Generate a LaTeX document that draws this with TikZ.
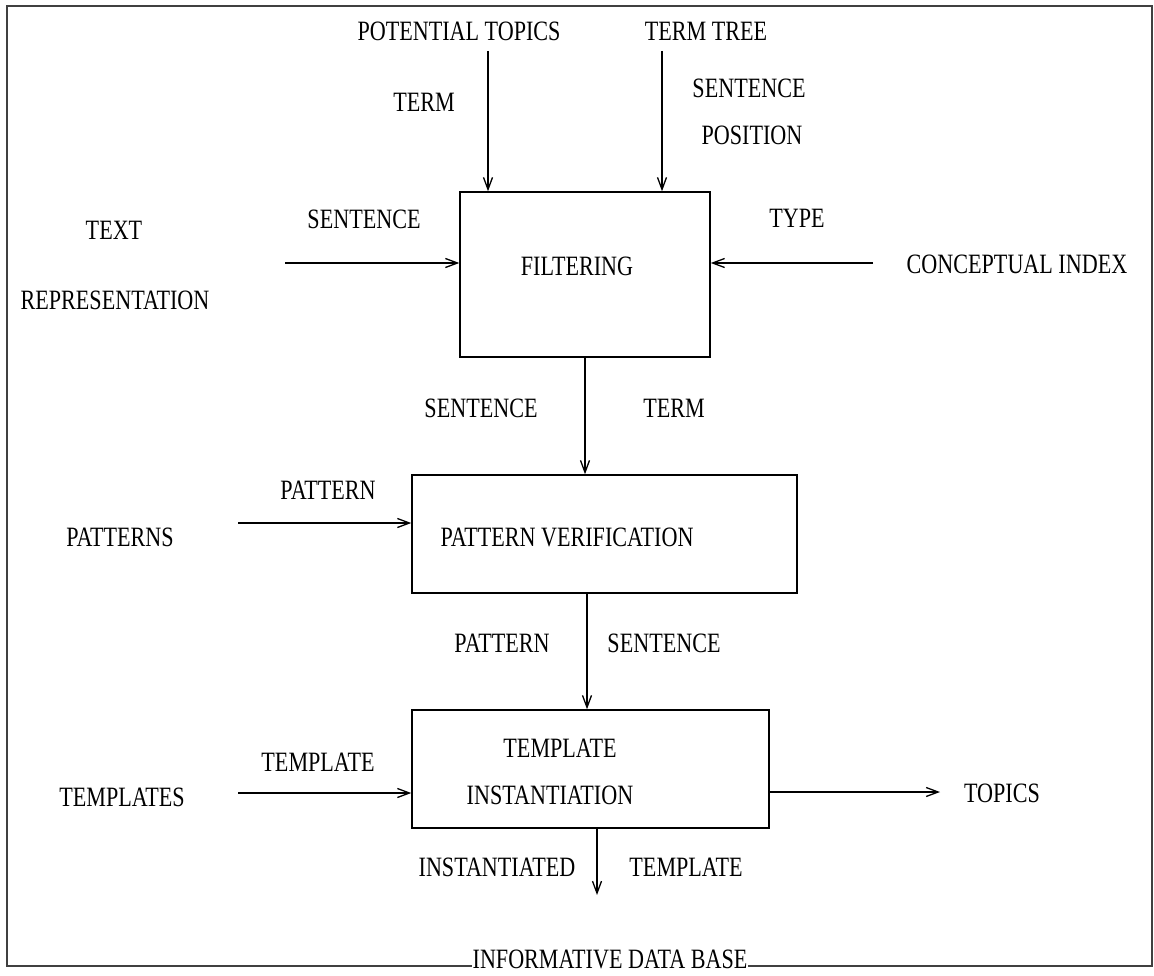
\documentclass[tikz,border=0pt]{standalone}
\usepackage{fontspec}
\setmainfont[FakeStretch=0.79]{Liberation Serif}
\usetikzlibrary{arrows.meta}
\begin{document}
\begin{tikzpicture}[x=1pt,y=-1pt,
  lbl/.style={inner sep=0pt,anchor=center,font=\fontsize{28}{31}\selectfont},
  procbox/.style={draw,line width=1.5pt,inner sep=0pt},
  arr/.style={line width=1.5pt,-{Straight Barb[length=12pt,width=9pt,line width=1.3pt]}},
  frame/.style={draw=black!75,line width=1.3pt}]
\useasboundingbox (0,0) rectangle (1154,976);
\draw[frame] (7,6) rectangle (1152,966);

% process boxes
\node[procbox,minimum width=250pt,minimum height=165pt] (fil) at (585,274.5) {};
\node[procbox,minimum width=385pt,minimum height=118pt] (pv) at (604.5,534) {};
\node[procbox,minimum width=357pt,minimum height=118pt] (tm) at (590.5,769) {};

% box texts
\node[lbl] (tfil) at (577,266) {FILTERING};
\node[lbl] (tpv) at (567,537) {PATTERN VERIFICATION};
\node[lbl] (ttm1) at (560,748) {TEMPLATE};
\node[lbl] (ttm2) at (550,795) {INSTANTIATION};

% sources / sinks
\node[lbl] (pot) at (459,31) {POTENTIAL TOPICS};
\node[lbl] (tree) at (706,31) {TERM TREE};
\node[lbl] (txt1) at (114,230) {TEXT};
\node[lbl] (txt2) at (115,300) {REPRESENTATION};
\node[lbl] (ci) at (1017,264) {CONCEPTUAL INDEX};
\node[lbl] (pats) at (120,537) {PATTERNS};
\node[lbl] (tmps) at (122,797) {TEMPLATES};
\node[lbl] (top) at (1002,793) {TOPICS};
\node[lbl,fill=white,inner sep=1pt] (idb) at (610,959) {INFORMATIVE DATA BASE};

% edge labels
\node[lbl] (l1) at (424,102) {TERM};
\node[lbl] (l2a) at (749,88) {SENTENCE};
\node[lbl] (l2b) at (752,135) {POSITION};
\node[lbl] (l3) at (364,219) {SENTENCE};
\node[lbl] (l4) at (797,218) {TYPE};
\node[lbl] (l5a) at (481,408) {SENTENCE};
\node[lbl] (l5b) at (674,408) {TERM};
\node[lbl] (l6) at (328,490) {PATTERN};
\node[lbl] (l7a) at (502,643) {PATTERN};
\node[lbl] (l7b) at (664,643) {SENTENCE};
\node[lbl] (l8) at (318,762) {TEMPLATE};
\node[lbl] (l9a) at (497,867) {INSTANTIATED};
\node[lbl] (l9b) at (686,867) {TEMPLATE};

% connector end points
\coordinate (c1) at (488,51);
\coordinate (c2) at (662,51);
\coordinate (c3) at (285,263);
\coordinate (c4) at (873,263);
\coordinate (c5) at (238,523);
\coordinate (c6) at (587,0);
\coordinate (c7) at (238,793);
\coordinate (c8) at (940,792);
\coordinate (c9) at (597,895);

% connectors
\draw[arr] (c1) -- (c1 |- fil.north);
\draw[arr] (c2) -- (c2 |- fil.north);
\draw[arr] (c3) -- (c3 -| fil.west);
\draw[arr] (c4) -- (c4 -| fil.east);
\draw[arr] (fil.south) -- (fil.south |- pv.north);
\draw[arr] (c5) -- (c5 -| pv.west);
\draw[arr] (c6 |- pv.south) -- (c6 |- tm.north);
\draw[arr] (c7) -- (c7 -| tm.west);
\draw[arr] (c8 -| tm.east) -- (c8);
\draw[arr] (c9 |- tm.south) -- (c9);
\end{tikzpicture}
\end{document}
